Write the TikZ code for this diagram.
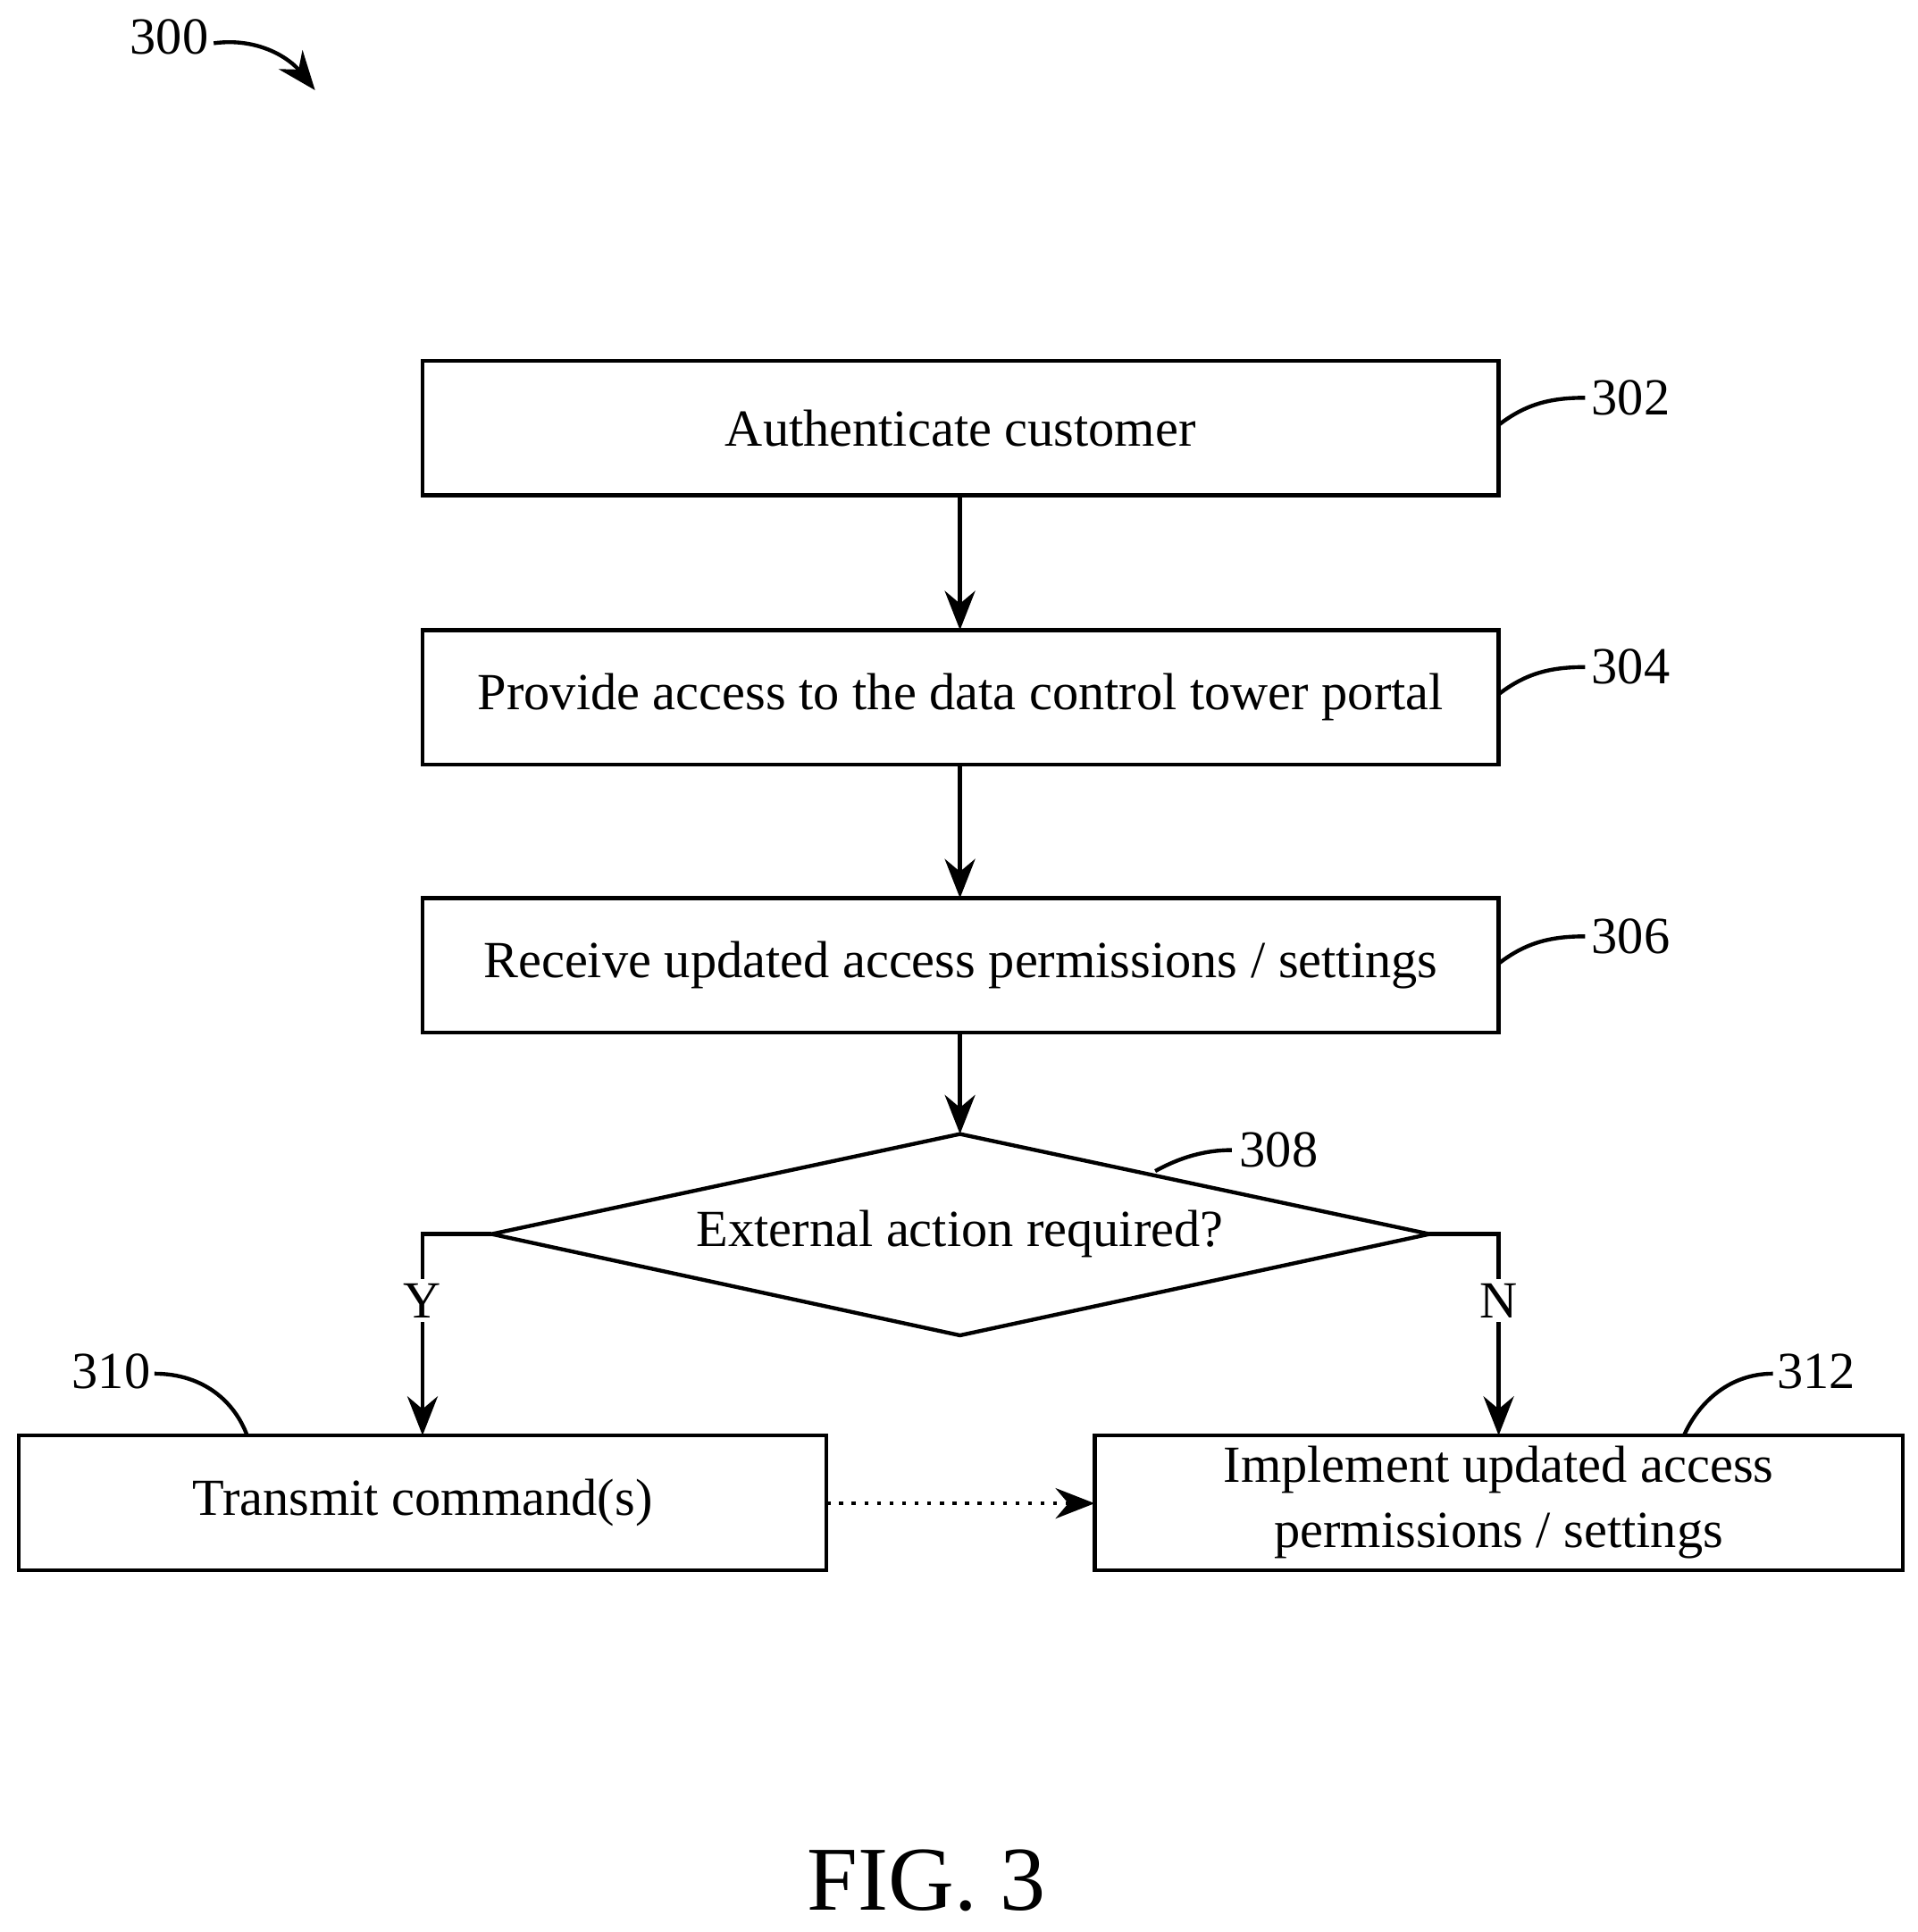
\documentclass[tikz,border=0pt]{standalone}
\usepackage{fontspec}
\setmainfont{Liberation Serif}
\usetikzlibrary{arrows.meta,shapes.geometric}
\begin{document}
\begin{tikzpicture}[x=0.01cm,y=-0.01cm,
  box/.style={draw,line width=0.9pt,inner sep=0pt},
  arr/.style={line width=0.9pt,-{Stealth[length=9pt,width=7pt]}},
  lead/.style={line width=0.9pt},
  lbl/.style={font=\fontsize{12}{14}\selectfont},
  txt/.style={font=\fontsize{12}{15}\selectfont,align=center}]
\useasboundingbox (0,0) rectangle (1552,1564);
\draw[box] (342,292) rectangle (1213,401) node[midway,txt] (b302) {Authenticate customer};
\draw[box] (342,510) rectangle (1213,619) node[midway,txt] (b304) {Provide access to the data control tower portal};
\draw[box] (342,727) rectangle (1213,836) node[midway,txt] (b306) {Receive updated access permissions / settings};
\draw[line width=0.9pt] (777,918) -- (1157,999) -- (777,1081) -- (398,999) -- cycle;
\node[txt] (d308) at (777,999) {External action required?};
\draw[box] (15,1162) rectangle (669,1271) node[midway,txt] (b310) {Transmit command(s)};
\draw[box] (886,1162) rectangle (1540,1271) node[midway,txt] (b312) {Implement updated access\\permissions / settings};
\coordinate (t304) at (777,510);
\coordinate (t306) at (777,727);
\coordinate (t308) at (777,918);
\draw[arr] (777,401) -- (t304);
\draw[arr] (777,619) -- (t306);
\draw[arr] (777,836) -- (t308);
\draw[arr] (398,999) -- (342,999) -- (342,1162);
\draw[arr] (1157,999) -- (1213,999) -- (1213,1162);
\node[lbl,fill=white,inner sep=1pt] at (342,1053) {Y};
\node[lbl,fill=white,inner sep=1pt] at (1213,1053) {N};
\draw[arr,dotted] (669,1217) -- (886,1217);
\node[lbl] (n302) at (1320,322) {302};
\node[lbl] (n304) at (1320,540) {304};
\node[lbl] (n306) at (1320,758) {306};
\node[lbl] (n308) at (1035,931) {308};
\node[lbl] (n310) at (90,1110) {310};
\node[lbl] (n312) at (1470,1110) {312};
\node[lbl] (n300) at (137,30) {300};
\foreach \y in {322,540,758}{
  \draw[lead] (1213,\y+22) .. controls (1235,\y+5) and (1255,\y) .. (1283,\y);}
\draw[lead] (935,948) .. controls (955,937) and (975,931) .. (997,931);
\draw[lead] (125,1112) .. controls (165,1112) and (190,1135) .. (200,1162);
\draw[lead] (1363,1162) .. controls (1375,1135) and (1400,1112) .. (1435,1112);
\draw[arr] (173,35) .. controls (210,30) and (235,48) .. (255,73);
\node[font=\fontsize{21}{24}\selectfont] (fig) at (750,1522) {FIG. 3};
\end{tikzpicture}
\end{document}
